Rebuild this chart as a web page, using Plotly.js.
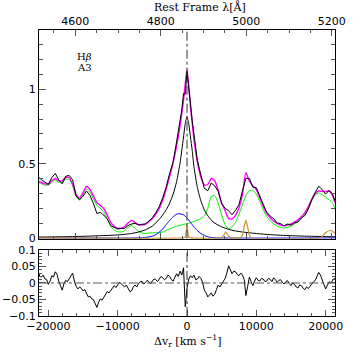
<!DOCTYPE html>
<html><head><meta charset="utf-8">
<script src="https://cdn.plot.ly/plotly-3.0.1.min.js"></script>
<style>html,body{margin:0;padding:0;background:#fff}#c{width:354px;height:354px}</style>
</head><body><div id="c"></div>
<script>
// common velocity grid (km/s)
const vel = [-21350,-21000,-20500,-20000,-19500,-19000,-18500,-18000,-17500,-17000,-16500,-16000,-15500,-15000,-14500,-14000,-13500,-13000,-12500,-12000,-11500,-11000,-10500,-10000,-9500,-9000,-8500,-8000,-7500,-7000,-6500,-6000,-5500,-5000,-4500,-4000,-3500,-3000,-2500,-2000,-1500,-1000,-750,-500,-250,0,250,500,750,1000,1500,2000,2500,3000,3500,4000,4500,5000,5500,6000,6500,7000,7500,8000,8500,9000,9500,10000,10500,11000,11500,12000,12500,13000,13500,14000,14500,15000,15500,16000,16500,17000,17500,18000,18500,19000,19500,20000,20500,21000,21350];
const observed = [0.408,0.391,0.376,0.360,0.407,0.434,0.391,0.364,0.415,0.421,0.393,0.283,0.257,0.281,0.316,0.287,0.233,0.165,0.172,0.154,0.127,0.083,0.071,0.061,0.064,0.065,0.083,0.094,0.098,0.088,0.092,0.094,0.114,0.136,0.170,0.212,0.271,0.344,0.435,0.513,0.648,0.789,0.864,0.972,0.968,1.120,1.032,0.907,0.791,0.689,0.522,0.424,0.335,0.318,0.370,0.351,0.314,0.231,0.199,0.184,0.156,0.186,0.225,0.318,0.402,0.400,0.342,0.339,0.277,0.226,0.173,0.147,0.130,0.100,0.097,0.080,0.094,0.086,0.102,0.107,0.134,0.151,0.194,0.258,0.307,0.348,0.326,0.295,0.320,0.295,0.249];
const totalFit = [0.380,0.373,0.364,0.364,0.385,0.400,0.385,0.386,0.407,0.407,0.363,0.293,0.269,0.305,0.346,0.327,0.283,0.239,0.220,0.197,0.153,0.105,0.079,0.065,0.066,0.077,0.101,0.118,0.104,0.090,0.087,0.093,0.110,0.130,0.160,0.200,0.255,0.330,0.415,0.507,0.620,0.753,0.840,0.926,1.040,1.135,1.020,0.885,0.775,0.665,0.510,0.410,0.357,0.360,0.400,0.385,0.320,0.235,0.185,0.132,0.128,0.152,0.203,0.294,0.440,0.382,0.350,0.323,0.271,0.214,0.167,0.136,0.114,0.098,0.087,0.083,0.087,0.094,0.106,0.122,0.142,0.171,0.211,0.260,0.299,0.316,0.314,0.313,0.316,0.287,0.237];

// residuals (observed - fit), finer velocity grid
const resVel = [-21350,-21250,-21000,-20750,-20500,-20250,-20000,-19750,-19500,-19250,-19000,-18750,-18500,-18250,-18000,-17750,-17500,-17250,-17000,-16750,-16500,-16250,-16000,-15750,-15500,-15250,-15000,-14750,-14500,-14250,-14000,-13750,-13500,-13250,-13000,-12750,-12500,-12250,-12000,-11750,-11500,-11250,-11000,-10750,-10500,-10250,-10000,-9750,-9500,-9250,-9000,-8750,-8500,-8250,-8000,-7750,-7500,-7250,-7000,-6750,-6500,-6250,-6000,-5750,-5500,-5250,-5000,-4750,-4500,-4250,-4000,-3750,-3500,-3250,-3000,-2750,-2500,-2250,-2000,-1750,-1500,-1250,-1000,-750,-500,-250,0,250,500,750,1000,1250,1500,1750,2000,2250,2500,2750,3000,3250,3500,3750,4000,4250,4500,4750,5000,5250,5500,5750,6000,6250,6500,6750,7000,7250,7500,7750,8000,8250,8500,8750,9000,9250,9500,9750,10000,10250,10500,10750,11000,11250,11500,11750,12000,12250,12500,12750,13000,13250,13500,13750,14000,14250,14500,14750,15000,15250,15500,15750,16000,16250,16500,16750,17000,17250,17500,17750,18000,18250,18500,18750,19000,19250,19500,19750,20000,20250,20500,20750,21000,21250,21350];
const residual = [0.028,0.020,0.018,0.024,0.012,0.010,-0.004,0.006,0.022,0.018,0.034,0.026,0.006,-0.006,-0.022,-0.002,0.008,0.004,0.014,0.024,0.030,0.006,-0.010,-0.018,-0.012,-0.016,-0.024,-0.020,-0.030,-0.042,-0.040,-0.048,-0.050,-0.064,-0.074,-0.058,-0.048,-0.052,-0.043,-0.034,-0.026,-0.030,-0.022,-0.012,-0.008,-0.014,-0.004,0.002,-0.002,-0.008,-0.012,-0.006,-0.018,-0.026,-0.024,-0.012,-0.006,-0.012,-0.002,0.004,0.005,-0.003,0.001,0.008,0.004,-0.002,0.006,0.012,0.010,0.004,0.012,0.020,0.016,0.010,0.014,0.024,0.020,0.010,0.006,0.018,0.028,0.020,0.036,0.024,0.046,-0.072,-0.015,0.012,0.022,0.016,0.024,0.010,0.012,0.020,0.014,0.002,-0.022,-0.030,-0.042,-0.036,-0.030,-0.040,-0.034,-0.020,-0.006,-0.012,-0.004,0.006,0.014,0.030,0.052,0.040,0.028,0.036,0.034,0.026,0.022,0.030,0.024,0.010,-0.038,-0.010,0.018,0.004,-0.008,0.006,0.016,0.008,0.006,0.014,0.012,0.004,0.006,0.014,0.011,0.004,0.016,0.010,0.002,0.008,0.010,0.002,-0.003,0.004,0.007,-0.002,-0.008,0.000,-0.004,-0.012,-0.015,-0.006,-0.008,-0.016,-0.020,-0.012,-0.017,-0.010,-0.002,0.004,0.008,0.020,0.032,0.024,0.012,-0.004,-0.018,-0.008,0.004,0.000,0.008,0.014,0.012];

// broad H-beta component (black smooth)
const hbVel = [-21350,-18000,-15000,-12000,-10000,-8000,-7000,-6000,-5000,-4000,-3500,-3000,-2500,-2000,-1500,-1000,-750,-500,-250,0,250,500,750,1000,1500,2000,2500,3000,3500,4000,5000,6000,7000,8000,10000,12000,15000,18000,21350];
const hbFlux = [0.006,0.008,0.011,0.016,0.020,0.030,0.040,0.055,0.080,0.125,0.155,0.190,0.235,0.295,0.380,0.505,0.590,0.680,0.770,0.814,0.770,0.680,0.590,0.480,0.340,0.250,0.190,0.150,0.120,0.100,0.075,0.058,0.047,0.040,0.030,0.022,0.015,0.011,0.008];
// blue-shifted component
const blueVel = [-21350,-7000,-6000,-5000,-4500,-4000,-3500,-3000,-2500,-2000,-1500,-1000,-500,0,500,1000,1500,2000,2500,3000,3500,4500,21350];
const blueFlux = [0,0,0.003,0.012,0.022,0.040,0.060,0.090,0.118,0.142,0.160,0.163,0.155,0.135,0.105,0.075,0.050,0.030,0.017,0.008,0.003,0,0];
// FeII template (green)
const feVel = [-21350,-21000,-20500,-20000,-19500,-19000,-18500,-18000,-17500,-17000,-16500,-16000,-15500,-15000,-14500,-14000,-13500,-13000,-12500,-12000,-11500,-11000,-10500,-10000,-9500,-9000,-8500,-8000,-7500,-7000,-6500,-6000,-5500,-5000,-4500,-4000,-3500,-3000,-2500,-2000,-1500,-1000,-500,0,500,1000,1500,2000,2500,3000,3500,4000,4500,5000,5500,6000,6500,7000,7500,8000,8500,9000,9500,10000,10500,11000,11500,12000,12500,13000,13500,14000,14500,15000,15500,16000,16500,17000,17500,18000,18500,19000,19500,20000,20500,21000,21350];
const feFlux = [0.372,0.365,0.355,0.355,0.375,0.390,0.375,0.375,0.395,0.395,0.350,0.280,0.255,0.290,0.330,0.310,0.265,0.220,0.200,0.175,0.130,0.080,0.052,0.042,0.040,0.048,0.070,0.085,0.065,0.045,0.034,0.030,0.033,0.035,0.035,0.035,0.040,0.050,0.062,0.070,0.080,0.085,0.091,0.096,0.103,0.110,0.120,0.130,0.150,0.200,0.280,0.285,0.235,0.155,0.090,0.062,0.075,0.105,0.160,0.225,0.285,0.320,0.320,0.295,0.245,0.190,0.145,0.115,0.095,0.080,0.070,0.067,0.072,0.080,0.093,0.110,0.130,0.160,0.200,0.250,0.290,0.302,0.290,0.275,0.258,0.235,0.200];
// narrow lines (brown)
const nlVel = [-21350,-500,-250,-120,0,120,250,500,4900,5200,5600,6000,6300,7700,8000,8250,8500,8750,9000,9300,19200,19600,20000,20600,21000,21350];
const nlFlux = [0,0,0.005,0.045,0.090,0.045,0.005,0,0,0.012,0.040,0.012,0,0,0.020,0.075,0.120,0.075,0.020,0,0,0.015,0.035,0.050,0.045,0.030];

// axis labels
const velRange = [-21350, 21350];
const lamTicks = [4600, 4800, 5000, 5200];
const lamMinor = [4550,4650,4700,4750,4850,4900,4950,5050,5100,5150];
const LAM0 = 4861.33, CKMS = 299792.458;
const toVel = l => (l - LAM0) / LAM0 * CKMS;   // rest wavelength -> velocity (tick placement)

const BROWN = '#c8922e';
const traces = [
  {x: feVel, y: feFlux, xaxis:'x3', yaxis:'y', mode:'lines', line:{color:'#00ee00', width:1, shape:'spline', smoothing:0.6}},
  {x: blueVel, y: blueFlux, xaxis:'x3', yaxis:'y', mode:'lines', line:{color:'#0000ff', width:1, shape:'spline', smoothing:0.6}},
  {x: hbVel, y: hbFlux, xaxis:'x3', yaxis:'y', mode:'lines', line:{color:'#000000', width:1, shape:'spline', smoothing:0.6}},
  {x: vel, y: totalFit, xaxis:'x3', yaxis:'y', mode:'lines', line:{color:'#ff00ff', width:1.4, shape:'spline', smoothing:0.6}},
  {x: vel, y: observed, xaxis:'x3', yaxis:'y', mode:'lines', line:{color:'#000000', width:1}},
  {x: nlVel, y: nlFlux, xaxis:'x3', yaxis:'y', mode:'lines', line:{color:BROWN, width:1.2, shape:'spline', smoothing:0.4}},
  {x: resVel, y: residual, xaxis:'x', yaxis:'y2', mode:'lines', line:{color:'#000000', width:1}}
];

const tickFont = {family:'DejaVu Sans', size:11, color:'#000'};
const axBase = {showline:true, linecolor:'#000', linewidth:1, ticks:'inside', tickcolor:'#555', showgrid:false, zeroline:false, tickfont: tickFont};
const titleFont = {family:'DejaVu Serif', size:11, color:'#000'};

const layout = {
  width:354, height:354, margin:{l:39, r:19, t:30, b:38},
  paper_bgcolor:'#fff', plot_bgcolor:'#fff', showlegend:false,
  xaxis: Object.assign({}, axBase, {anchor:'y2', domain:[0,1], range:velRange, dtick:10000, tick0:0, tickformat:'d', ticklen:6, mirror:'allticks',
     minor:{dtick:2000, tick0:0, ticklen:3, ticks:'inside', tickcolor:'#555'}}),
  xaxis3: Object.assign({}, axBase, {anchor:'y', domain:[0,1], range:velRange, matches:'x', side:'top', mirror:'allticks',
     tickmode:'array', tickvals: lamTicks.map(toVel), ticktext: lamTicks.map(String), ticklen:6,
     minor:{tickmode:'array', tickvals: lamMinor.map(toVel), ticklen:3, ticks:'inside', tickcolor:'#555'}}),
  yaxis: Object.assign({}, axBase, {anchor:'x3', domain:[0.2703,1], range:[-0.005,1.4], dtick:0.5, ticklen:7, mirror:'allticks',
     minor:{dtick:0.1, ticklen:4, ticks:'inside', tickcolor:'#555'}}),
  yaxis2: Object.assign({}, axBase, {anchor:'x', domain:[0,0.2308], range:[-0.1,0.1], dtick:0.05, ticklen:7, mirror:'allticks',
     minor:{dtick:0.01, ticklen:3, ticks:'inside', tickcolor:'#555'}}),
  shapes: [
    {type:'line', xref:'x3', yref:'y domain', x0:0, x1:0, y0:0, y1:1, line:{color:'#333', width:1, dash:'dashdot'}},
    {type:'line', xref:'x', yref:'y2 domain', x0:0, x1:0, y0:0, y1:1, line:{color:'#333', width:1, dash:'dashdot'}},
    {type:'line', xref:'x domain', yref:'y2', x0:0, x1:1, y0:0, y1:0, line:{color:'#555', width:1, dash:'dashdot'}}
  ],
  annotations: [
    {xref:'paper', yref:'paper', x:0.544, y:1.080, xanchor:'center', yanchor:'middle', text:'Rest Frame λ[Å]', showarrow:false, font:titleFont},
    {xref:'paper', yref:'paper', x:0.505, y:-0.086, xanchor:'center', yanchor:'middle', text:'Δv<sub>r</sub> [km s<sup>−1</sup>]', showarrow:false, font:titleFont},
    {xref:'paper', yref:'paper', x:0.1216, y:0.906, xanchor:'left', yanchor:'middle', text:'H<i>β</i>', showarrow:false, font:{family:'DejaVu Serif', size:10, color:'#000'}},
    {xref:'paper', yref:'paper', x:0.1216, y:0.868, xanchor:'left', yanchor:'middle', text:'A3', showarrow:false, font:{family:'DejaVu Serif', size:10, color:'#000'}}
  ]
};
Plotly.newPlot('c', traces, layout, {staticPlot:true, displayModeBar:false});
</script></body></html>
